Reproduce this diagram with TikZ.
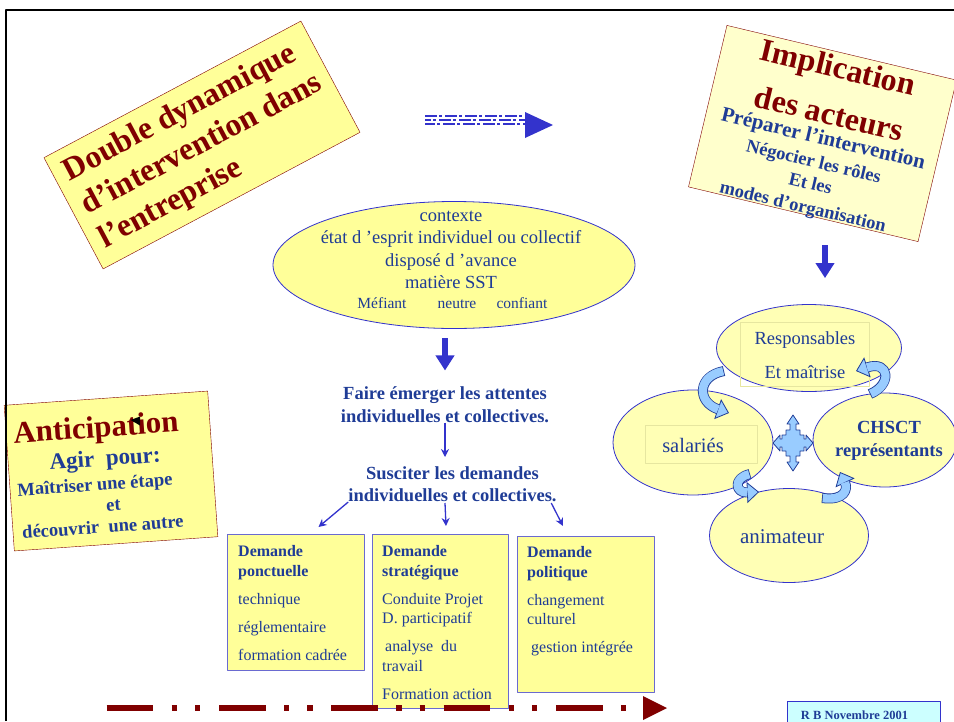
\documentclass[tikz,border=0pt]{standalone}
\usepackage{fontspec}
\setmainfont{Liberation Serif}
\usetikzlibrary{shapes.geometric,arrows.meta}
\definecolor{bordeaux}{HTML}{800000}
\definecolor{encre}{HTML}{1F3C96}
\definecolor{fleche}{HTML}{3333CC}
\definecolor{jaune}{HTML}{FFFF99}
\definecolor{jaunepale}{HTML}{FFFFCC}
\definecolor{jauneclair}{HTML}{FFFFB5}
\definecolor{cadrejaune}{HTML}{E6E6A0}
\definecolor{ciel}{HTML}{99CCFF}
\definecolor{cyanpale}{HTML}{CCFFFF}
\definecolor{bordbleu}{HTML}{6A6AD0}
\newcommand{\courbe}[4]{\draw[courbe] #1 .. controls #2 and #3 .. #4; \draw[courbeint] #1 .. controls #2 and #3 .. #4;}

\begin{document}
\begin{tikzpicture}[x=1pt, y=-1pt, line join=round,
 titre/.style={text=bordeaux, font=\bfseries\fontsize{32}{38}\selectfont, inner sep=0pt, align=left},
 sous/.style={text=encre, font=\bfseries\fontsize{18.5}{22}\selectfont, inner sep=0pt, align=center},
 gras/.style={text=encre, font=\bfseries\fontsize{18.5}{22.5}\selectfont, inner sep=0pt, align=center},
 texte/.style={text=encre, font=\fontsize{18.5}{22.5}\selectfont, inner sep=0pt, align=center},
 grosse/.style={fleche, line width=6pt, -{Triangle[length=15pt, width=18pt]}},
 fine/.style={fleche, line width=1.3pt, -{Stealth[length=8pt, width=8pt]}},
 demande/.style={draw=bordbleu, fill=jaune, line width=1pt, anchor=north west, inner sep=0pt},
 dtexte/.style={text=encre, font=\fontsize{16}{19.5}\selectfont, align=left, anchor=north west, inner sep=0pt},
 bulle/.style={ellipse, draw=fleche, fill=jauneclair, line width=0.8pt, inner sep=0pt},
 courbe/.style={draw=encre, line width=10pt, -{Triangle[length=12pt, width=21pt, line width=0.8pt, fill=ciel]}},
 courbeint/.style={draw=ciel, line width=8.4pt, shorten >=11.5pt, shorten <=0.8pt}]
\useasboundingbox (0,0) rectangle (954,721);

\node[titre, draw=bordeaux, fill=jaune, rotate=28, minimum width=291, minimum height=126] (double) at (202,145) {Double dynamique\\d’intervention dans\\l’entreprise};

\begin{scope}[shift={(822.5,133.5)}, rotate=-13.4, transform shape]
 \node[draw=bordeaux, fill=jaunepale, minimum width=236, minimum height=166] (impl) at (0,0) {};
 \node[titre] (impl1) at (0,-65) {Implication};
 \node[titre] (impl2) at (2,-21) {des acteurs};
 \node[sous, font=\bfseries\fontsize{21}{25}\selectfont] (prep) at (2,6) {Préparer l’intervention};
 \node[sous] (nego) at (-2,31) {Négocier les rôles};
 \node[sous] (etles) at (0,51) {Et les};
 \node[sous] (modes) at (-2,77) {modes d’organisation};
\end{scope}

\foreach \yy/\ph in {116/0, 120/6, 124/2}
 \draw[fleche, line width=1.6pt, dash pattern=on 12pt off 2pt on 3pt off 3pt, dash phase=\ph pt] (425,\yy) -- (525,\yy);
\fill[fleche] (525,112) -- (553,125) -- (525,138) -- cycle;

\node[ellipse, draw=fleche, fill=jaune, line width=0.8pt, minimum width=362, minimum height=127, inner sep=0pt] (ctx) at (454,265) {};
\node[texte] (ctxt) at (451,250) {contexte\\état d ’esprit individuel ou collectif\\disposé d ’avance\\matière SST};
\node[texte, font=\fontsize{15.5}{18}\selectfont, anchor=base] (mef) at (382,308) {Méfiant};
\node[texte, font=\fontsize{15.5}{18}\selectfont, anchor=base] (neu) at (457,308) {neutre};
\node[texte, font=\fontsize{15.5}{18}\selectfont, anchor=base] (conf) at (522,308) {confiant};

\node[gras] (faire) at (445,404.5) {Faire émerger les attentes\\individuelles et collectives.};
\node[gras] (susciter) at (452.5,484) {Susciter les demandes\\individuelles et collectives.};
\draw[grosse, shorten <=9.5pt, shorten >=16pt] (ctx.south -| faire.north) -- (faire.north);
\draw[fine, shorten >=9pt] (faire.south) -- (faire.south |- susciter.north);

\node[demande, minimum width=137, minimum height=136] (pbox) at (227,534) {};
\node[dtexte] (ptxt) at (238,545.5) {\textbf{Demande}\\\textbf{ponctuelle}\\[8.5pt]technique\\[8.5pt]réglementaire\\[8.5pt]formation cadrée};
\node[demande, minimum width=136, minimum height=174] (sbox) at (372,534) {};
\node[dtexte] (stxt) at (382,545.5) {\textbf{Demande}\\\textbf{stratégique}\\[8.5pt]Conduite Projet\\D. participatif\\[8.5pt]\hspace*{3pt}analyse\ \ du\\travail\\[8.5pt]Formation action};
\node[demande, minimum width=137, minimum height=156] (polbox) at (517,536) {};
\node[dtexte] (poltxt) at (527,546.5) {\textbf{Demande}\\\textbf{politique}\\[8.5pt]changement\\culturel\\[8.5pt]\hspace*{4pt}gestion intégrée};
\draw[fine] (susciter.south west) -- ([shift={(22.5,-7)}]pbox.north);
\draw[fine] ([shift={(-7.5,1)}]susciter.south) -- ([shift={(5.5,-8)}]sbox.north);
\draw[fine] ([shift={(-5.5,1)}]susciter.south east) -- ([shift={(-23,-10)}]polbox.north);

\draw[bordeaux, line width=6pt, dash pattern=on 46.7pt off 18.3pt on 5.3pt off 18pt on 5.3pt off 18.7pt] (106.7,708) -- (643,708);
\fill[bordeaux] (643,696) -- (667,708) -- (643,720) -- cycle;

\node[draw=fleche, fill=cyanpale, minimum width=153, minimum height=30, anchor=north west] (rb) at (787,701) {};
\node[text=encre, font=\bfseries\fontsize{12.5}{15}\selectfont] (rbtxt) at (854.5,715) {R B Novembre 2001};

\begin{scope}[shift={(111,471)}, rotate=4, transform shape]
 \node[draw=bordeaux, fill=jaune, minimum width=204, minimum height=146] (antic) at (0,0) {};
 \node[titre, font=\bfseries\fontsize{31}{36}\selectfont] (antict) at (-12,-42) {Anticipation};
 \node[sous, font=\bfseries\fontsize{23}{27}\selectfont] (agir) at (-5,-11) {Agir\ \ pour:};
 \node[sous] (maitr) at (-17,14) {Maîtriser une étape};
 \node[sous] (et) at (0,35) {et};
 \node[sous] (decouv) at (-12,55) {découvrir\ \ une autre};
\end{scope}
\fill (130.7,420) -- (140,416.5) -- (140,425.5) -- cycle;

\node[bulle, minimum width=185, minimum height=87] (resp) at (809,348) {};
\node[draw=cadrejaune, minimum width=129, minimum height=64, inner sep=0pt] (respcadre) at (805,354) {};
\node[texte] (resptxt) at (805,355) {Responsables\\[11pt]Et maîtrise};
\node[bulle, minimum width=160, minimum height=105] (sal) at (693,442.5) {};
\node[draw=cadrejaune, minimum width=112, minimum height=38, inner sep=0pt] (salcadre) at (701,444) {};
\node[texte, font=\fontsize{20.5}{24}\selectfont] (saltxt) at (693,445) {salariés};
\node[bulle, minimum width=144, minimum height=94] (chsct) at (885,440) {};
\node[gras] (chscttxt) at (889,441) {CHSCT\\représentants};
\node[bulle, minimum width=159, minimum height=94] (anim) at (789,535.5) {};
\node[texte, font=\fontsize{21}{25}\selectfont] (animtxt) at (782,537) {animateur};

\filldraw[fill=ciel, draw=encre, line width=0.8pt, shift={(793,443)}] (0,-28) -- (6,-19) -- (3,-19) -- (3,-13) -- (7,-13) -- (7,-8) -- (11,-8) -- (11,-4) -- (13,-4) -- (13,-8) -- (20,0) -- (13,8) -- (13,4) -- (11,4) -- (11,8) -- (7,8) -- (7,13) -- (3,13) -- (3,19) -- (6,19) -- (0,28) -- (-6,19) -- (-3,19) -- (-3,13) -- (-7,13) -- (-7,8) -- (-11,8) -- (-11,4) -- (-13,4) -- (-13,8) -- (-20,0) -- (-13,-8) -- (-13,-4) -- (-11,-4) -- (-11,-8) -- (-7,-8) -- (-7,-13) -- (-3,-13) -- (-3,-19) -- (-6,-19) -- cycle;
\courbe{(724,371)}{(697,376)}{(697,402)}{(729,413)}
\courbe{(870,394)}{(892,385)}{(890,360)}{(856,371)}
\courbe{(750,474)}{(733,478)}{(735,493)}{(759,492)}
\courbe{(822,498)}{(845,501)}{(848,489)}{(840,472)}
\draw[grosse] ([shift={(16,-59)}]resp.north) -- ([shift={(16,-26)}]resp.north);

\draw[line width=2.5pt] (6,721) -- (6,10) -- (954,10);
\end{tikzpicture}
\end{document}
